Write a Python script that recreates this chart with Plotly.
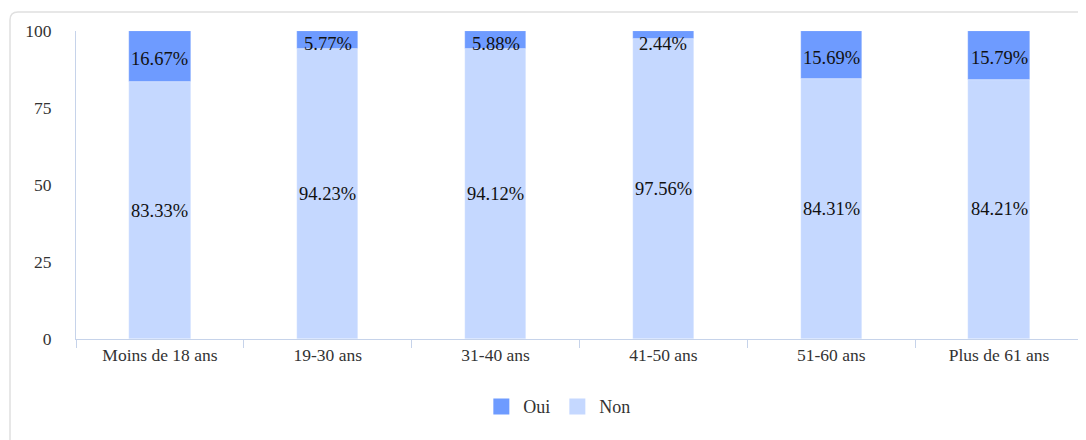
import plotly.graph_objects as go

categories = ["Moins de 18 ans", "19-30 ans", "31-40 ans", "41-50 ans", "51-60 ans", "Plus de 61 ans"]
oui = [16.67, 5.77, 5.88, 2.44, 15.69, 15.79]
non = [83.33, 94.23, 94.12, 97.56, 84.31, 84.21]
y_ticks = [0, 25, 50, 75, 100]
series_names = ["Oui", "Non"]

C_OUI = "#6e9bff"
C_NON = "#c5d8ff"
FONT = "Liberation Serif, Times New Roman, serif"

W, H = 1086, 440
# page body has an 8px offset; margins compensate for it
OFF = 8
L, R, T, B = 68, 11, 23, 109

fig = go.Figure()
fig.add_trace(go.Bar(name=series_names[0], x=categories, y=oui, base=non, showlegend=False,
                     marker=dict(color=C_OUI, line=dict(color="rgba(255,255,255,0.5)", width=0.5)), width=0.365))
fig.add_trace(go.Bar(name=series_names[1], x=categories, y=non, showlegend=False,
                     marker=dict(color=C_NON, line=dict(color="rgba(255,255,255,0.5)", width=0.5)), width=0.365))
# legend entries with larger square swatches
for nm, col in zip(series_names, [C_OUI, C_NON]):
    fig.add_trace(go.Scatter(name=nm, x=[None], y=[None], mode="markers",
                             marker=dict(symbol="square", size=18, color=col)))

annotations = []
for c, o, n in zip(categories, oui, non):
    annotations.append(dict(x=c, y=n / 2, text=f"{n:.2f}%", showarrow=False,
                            font=dict(family=FONT, size=18.5, color="#111")))
    annotations.append(dict(x=c, y=min(n + o / 2 - 0.8, 95.8), text=f"{o:.2f}%", showarrow=False,
                            font=dict(family=FONT, size=18.5, color="#111")))

pw = W - L - R
ph = H - T - B
def px_x(x):
    return (x - OFF - L) / pw
def px_y(y):
    return (H - B - (y - OFF)) / ph

x0, y0, x1, y1, r = 10, 12, 1110, 470, 8
path = (f"M {px_x(x0)},{px_y(y1)} L {px_x(x0)},{px_y(y0 + r)} "
        f"Q {px_x(x0)},{px_y(y0)} {px_x(x0 + r)},{px_y(y0)} L {px_x(x1)},{px_y(y0)}")

fig.update_layout(
    width=W, height=H,
    barmode="overlay",
    bargap=0.0,
    paper_bgcolor="white", plot_bgcolor="white",
    margin=dict(l=L, r=R, t=T, b=B, pad=0, autoexpand=False),
    font=dict(family=FONT, size=17.5, color="#333"),
    showlegend=True,
    legend=dict(orientation="h", x=0.478, xanchor="center", y=-0.22, yanchor="middle",
                font=dict(family=FONT, size=18, color="#333"), itemwidth=34,
                traceorder="normal"),
    annotations=annotations,
    shapes=[dict(type="path", path=path, xref="paper", yref="paper",
                 line=dict(color="#e0e0e0", width=1.5), layer="below")],
    xaxis=dict(showline=True, linecolor="#c6d3ea", linewidth=1, ticks="outside",
               tickson="boundaries", ticklen=8, tickcolor="#c6d3ea", automargin=False,
               tickfont=dict(family=FONT, size=17.5, color="#333"), showgrid=False),
    yaxis=dict(range=[0, 100], tickvals=y_ticks, showline=True, linecolor="#c6d3ea",
               linewidth=1, showgrid=False, zeroline=False, ticks="", ticklabelstandoff=20,
               automargin=False,
               tickfont=dict(family=FONT, size=17.5, color="#333")),
)

fig.write_html("out.html")
